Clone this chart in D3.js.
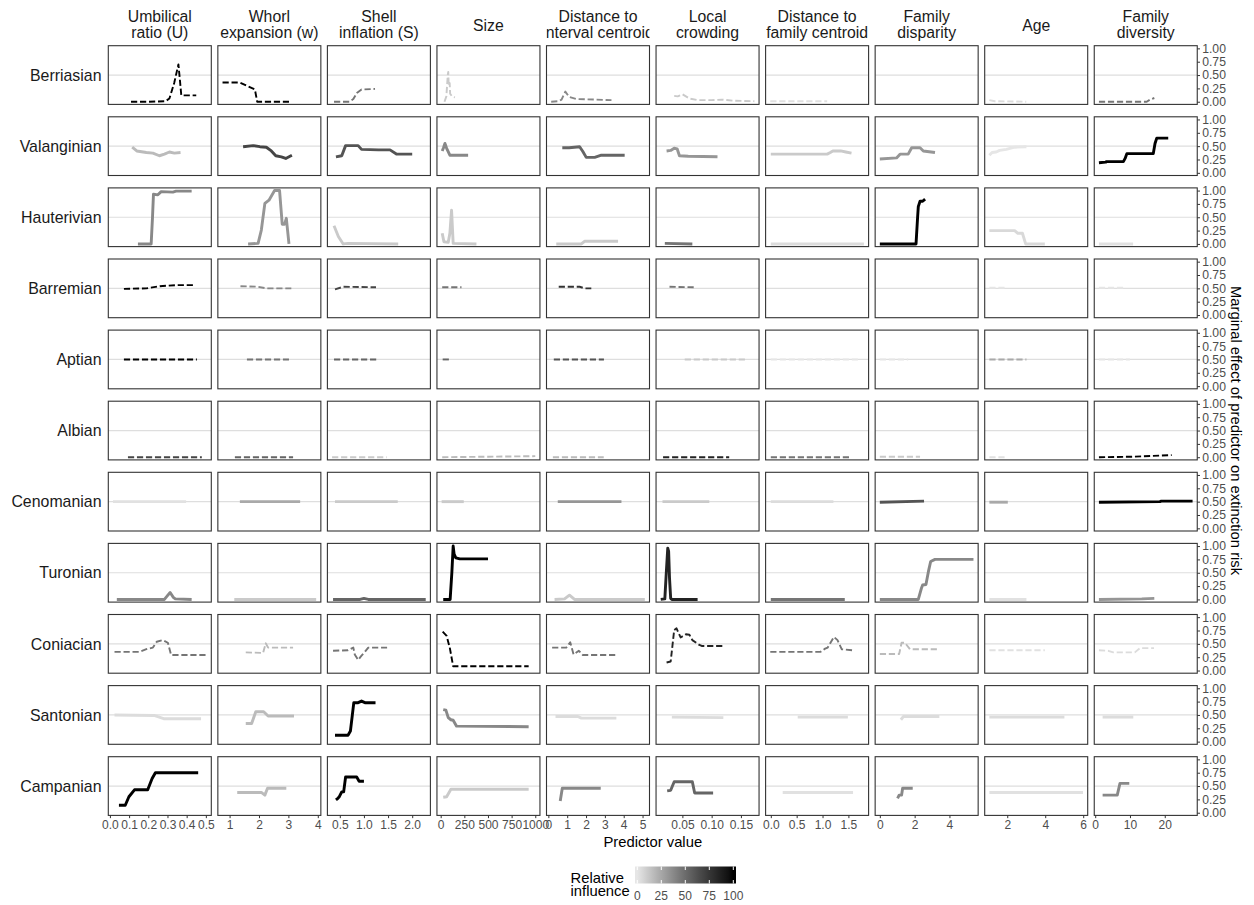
<!DOCTYPE html>
<html>
<head>
<meta charset="utf-8">
<script src="https://cdn.jsdelivr.net/npm/d3@7"></script>
<style>
  body { margin: 0; background: #fff; }
  text { font-family: "Liberation Sans", Arial, Helvetica, sans-serif; }
</style>
</head>
<body>
<div id="chart"></div>
<script>
// periods (rows) and predictors (columns)
const periods = ["Berriasian", "Valanginian", "Hauterivian", "Barremian", "Aptian", "Albian",
  "Cenomanian", "Turonian", "Coniacian", "Santonian", "Campanian"];
const predictors = [["Umbilical", "ratio (U)"], ["Whorl", "expansion (w)"], ["Shell", "inflation (S)"],
  ["Size"], ["Distance to", "interval centroid"], ["Local", "crowding"], ["Distance to", "family centroid"],
  ["Family", "disparity"], ["Age"], ["Family", "diversity"]];
const dashedPeriods = ["Berriasian", "Barremian", "Aptian", "Albian", "Coniacian"];

const xTickLabels = [
  ["0.0", "0.1", "0.2", "0.3", "0.4", "0.5"],
  ["1", "2", "3", "4"],
  ["0.5", "1.0", "1.5", "2.0"],
  ["0", "250", "500", "750", "1000"],
  ["0", "1", "2", "3", "4", "5"],
  ["0.05", "0.10", "0.15"],
  ["0.0", "0.5", "1.0", "1.5"],
  ["0", "2", "4"],
  ["2", "4", "6"],
  ["0", "10", "20"]
];
const yTickLabels = ["0.00", "0.25", "0.50", "0.75", "1.00"];
const legendTicks = [0, 25, 50, 75, 100];

// relative influence of each predictor, per period
const influence = [
  [100, 100, 46, 11, 38, 11, 2, 0, 4, 46],
  [17, 68, 61, 38, 53, 32, 11, 32, 0, 100],
  [38, 32, 11, 11, 11, 46, 4, 100, 5, 2],
  [100, 38, 68, 46, 77, 46, 0, 0, 0, 0],
  [100, 46, 53, 53, 61, 11, 0, 0, 24, 0],
  [68, 53, 11, 17, 17, 85, 46, 11, 2, 100],
  [2, 24, 11, 11, 32, 11, 4, 61, 24, 100],
  [38, 11, 53, 100, 11, 85, 46, 38, 2, 32],
  [46, 17, 46, 100, 46, 85, 46, 17, 2, 4],
  [4, 17, 100, 38, 4, 4, 4, 4, 4, 4],
  [100, 17, 100, 11, 38, 53, 2, 38, 2, 38]
];

// marginal effect curves [predictor value, effect], one list per predictor
const berriasian = [
  [[0.11,0],[0.2,0],[0.29,0.01],[0.31,0.06],[0.335,0.35],[0.357,0.7],[0.365,0.4],[0.372,0.12],[0.45,0.12]],
  [[0.76,0.36],[1.35,0.36],[1.58,0.3],[1.86,0.23],[1.94,0],[3.02,0]],
  [[0.38,0],[0.7,0],[0.78,0.05],[0.86,0.17],[0.95,0.23],[1.23,0.24]],
  [[40,0],[60,0.1],[75,0.5],[80,0.56],[85,0.3],[95,0.35],[100,0.15],[120,0.1],[150,0.08]],
  [[0.15,0],[0.55,0.01],[0.7,0.04],[0.9,0.19],[1.1,0.09],[1.5,0.05],[2.5,0.04],[3.35,0.03]],
  [[0.036,0.11],[0.042,0.1],[0.05,0.14],[0.062,0.06],[0.076,0.03],[0.1,0.03],[0.118,0.04],[0.136,0.02],[0.173,0.01]],
  [[-0.01,0.01],[1.09,0.01]],
  null,
  [[1.06,0.03],[1.35,0.01],[3.0,0]],
  [[1.07,0],[14.8,0],[15.8,0.04],[17,0.07]]
];
const valanginian = [
  [[0.116,0.48],[0.14,0.41],[0.19,0.38],[0.224,0.37],[0.258,0.32],[0.284,0.35],[0.31,0.39],[0.336,0.37],[0.368,0.38]],
  [[1.46,0.49],[1.8,0.51],[2.03,0.49],[2.25,0.48],[2.42,0.41],[2.57,0.32],[2.76,0.3],[2.91,0.27],[3.12,0.33]],
  [[0.42,0.3],[0.54,0.32],[0.62,0.51],[0.88,0.51],[0.95,0.44],[1.3,0.43],[1.54,0.43],[1.68,0.35],[2.0,0.35]],
  [[16,0.41],[30,0.47],[45,0.55],[63,0.46],[97,0.33],[290,0.33]],
  [[0.74,0.47],[1.1,0.47],[1.66,0.49],[1.83,0.4],[2.01,0.29],[2.46,0.29],[2.81,0.33],[4.05,0.33]],
  [[0.023,0.41],[0.03,0.42],[0.036,0.46],[0.041,0.45],[0.045,0.32],[0.06,0.31],[0.11,0.3]],
  [[0,0.35],[1.09,0.35],[1.15,0.38],[1.2,0.41],[1.35,0.41],[1.45,0.39],[1.56,0.37]],
  [[0,0.26],[0.96,0.28],[1.16,0.35],[1.63,0.35],[1.83,0.47],[2.31,0.47],[2.5,0.41],[3.17,0.38]],
  [[1.06,0.33],[1.2,0.38],[1.42,0.39],[1.6,0.42],[1.95,0.44],[2.39,0.48],[3.01,0.49]],
  [[1.07,0.19],[3.0,0.2],[3.3,0.21],[8.1,0.21],[8.6,0.27],[9.1,0.36],[16.7,0.36],[17.2,0.55],[17.7,0.65],[21.0,0.65]]
];
const hauterivian = [
  [[0.146,0],[0.215,0],[0.222,0.5],[0.227,0.93],[0.25,0.92],[0.267,0.98],[0.328,0.97],[0.345,0.99],[0.426,0.99]],
  [[1.63,0],[1.97,0.01],[2.08,0.26],[2.2,0.76],[2.34,0.82],[2.53,1.0],[2.7,1.0],[2.79,0.37],[2.87,0.37],[2.93,0.48],[3.02,0]],
  [[0.38,0.34],[0.47,0.14],[0.57,0],[0.67,0.01],[1.71,0]],
  [[16,0.2],[34,0.04],[80,0.03],[97,0.2],[115,0.63],[132,0.01],[378,0]],
  [[0.42,0],[1.75,0],[1.92,0.05],[3.7,0.05]],
  [[0.02,0.01],[0.067,0]],
  [[0,0],[1.8,0]],
  [[0,0],[2.08,0],[2.17,0.5],[2.21,0.7],[2.31,0.8],[2.46,0.8],[2.6,0.84]],
  [[1.06,0.25],[2.39,0.25],[2.56,0.2],[2.8,0.2],[2.97,0],[3.98,0]],
  [[1.07,0],[10.9,0]]
];
const barremian = [
  [[0.073,0.49],[0.19,0.5],[0.26,0.54],[0.345,0.56],[0.445,0.56]],
  [[1.37,0.54],[1.97,0.53],[2.25,0.5],[3.1,0.5]],
  [[0.4,0.48],[0.57,0.53],[1.25,0.52]],
  [[16,0.52],[220,0.52]],
  [[0.55,0.53],[1.66,0.53],[1.92,0.5],[2.28,0.5]],
  [[0.028,0.53],[0.07,0.52]],
  null,
  null,
  [[1.06,0.51],[1.95,0.51]],
  [[1.07,0.51],[8.56,0.51]]
];
const aptian = [
  [[0.073,0.5],[0.453,0.5]],
  [[1.59,0.5],[3.02,0.5]],
  [[0.38,0.5],[1.26,0.5]],
  [[21,0.5],[90,0.5]],
  [[0.29,0.5],[2.95,0.5]],
  [[0.054,0.5],[0.161,0.5]],
  [[0,0.5],[1.7,0.5]],
  [[0,0.5],[1.63,0.5]],
  [[1.06,0.5],[3.01,0.5]],
  [[1.07,0.5],[10,0.5]]
];
const albian = [
  [[0.094,0],[0.479,0]],
  [[1.18,0],[3.16,0]],
  [[0.34,0],[1.47,0]],
  [[16,0],[500,0.01],[1000,0.02]],
  [[0.24,0],[2.94,0]],
  [[0.017,0],[0.13,0]],
  [[0,0],[1.55,0]],
  [[0,0.01],[2.31,0.01]],
  [[1.06,0],[1.95,0]],
  [[1.07,0],[11,0.01],[18.6,0.03],[22,0.04]]
];
const cenomanian = [
  [[0.016,0.5],[0.397,0.5]],
  [[1.35,0.5],[3.4,0.5]],
  [[0.4,0.5],[1.7,0.5]],
  [[10,0.5],[244,0.5]],
  [[0.5,0.5],[3.88,0.5]],
  [[0.016,0.5],[0.096,0.5]],
  [[0,0.5],[1.21,0.5]],
  [[0,0.49],[2.54,0.51]],
  [[1.06,0.49],[2.03,0.49]],
  [[1.07,0.49],[18.6,0.5],[19,0.51],[28,0.51]]
];
const turonian = [
  [[0.036,0],[0.284,0],[0.3,0.07],[0.314,0.13],[0.33,0.04],[0.341,0.01],[0.426,0]],
  [[1.16,0],[3.945,0]],
  [[0.36,0],[0.92,0],[1.0,0.02],[1.09,0],[2.28,0]],
  [[27,0],[100,0],[118,0.5],[132,1.0],[142,0.85],[160,0.78],[202,0.76],[500,0.76]],
  [[0.33,0],[0.86,0.01],[1.12,0.08],[1.39,0],[5.12,0]],
  [[0.013,0],[0.02,0.01],[0.0225,0.5],[0.025,0.96],[0.0265,0.9],[0.028,0.4],[0.03,0.02],[0.032,0],[0.076,0]],
  [[0,0],[1.43,0]],
  [[0,0],[2.21,0],[2.4,0.22],[2.46,0.27],[2.65,0.28],[2.79,0.52],[2.92,0.71],[3.17,0.75],[5.38,0.75]],
  [[1.06,0],[3.01,0]],
  [[1.07,0],[13.4,0.01],[17,0.02]]
];
const coniacian = [
  [[0.024,0.35],[0.154,0.35],[0.19,0.4],[0.224,0.43],[0.244,0.54],[0.276,0.57],[0.302,0.52],[0.319,0.29],[0.504,0.29]],
  [[1.55,0.34],[2.14,0.33],[2.23,0.51],[2.31,0.43],[3.16,0.43]],
  [[0.36,0.37],[0.67,0.38],[0.78,0.43],[0.81,0.3],[0.88,0.2],[0.95,0.28],[1.02,0.35],[1.09,0.43],[1.48,0.43]],
  [[21,0.73],[63,0.65],[97,0.42],[132,0.08],[930,0.08]],
  [[0.2,0.43],[0.95,0.43],[1.16,0.53],[1.34,0.3],[1.62,0.37],[1.83,0.29],[3.61,0.29]],
  [[0.023,0.15],[0.03,0.17],[0.036,0.76],[0.04,0.79],[0.047,0.62],[0.056,0.68],[0.062,0.67],[0.067,0.57],[0.079,0.48],[0.083,0.46],[0.12,0.46]],
  [[-0.01,0.35],[0.96,0.35],[1.05,0.41],[1.1,0.43],[1.22,0.63],[1.29,0.57],[1.37,0.4],[1.58,0.38]],
  [[0,0.31],[1.11,0.31],[1.25,0.52],[1.44,0.52],[1.73,0.4],[3.42,0.4]],
  [[1.06,0.38],[3.98,0.38]],
  [[1.07,0.38],[3.75,0.37],[5.2,0.34],[11.4,0.34],[12.9,0.42],[16.9,0.42]]
];
const santonian = [
  [[0.024,0.5],[0.23,0.49],[0.28,0.43],[0.475,0.43]],
  [[1.55,0.34],[1.75,0.34],[1.89,0.56],[2.16,0.56],[2.31,0.48],[3.19,0.48]],
  [[0.4,0.12],[0.67,0.12],[0.72,0.2],[0.76,0.5],[0.79,0.73],[0.88,0.73],[0.95,0.76],[1.02,0.73],[1.24,0.73]],
  [[27,0.6],[55,0.59],[80,0.45],[108,0.41],[132,0.4],[168,0.29],[930,0.28]],
  [[0.38,0.47],[1.57,0.47],[1.75,0.44],[3.61,0.44]],
  [[0.032,0.46],[0.12,0.45]],
  [[0.52,0.46],[1.49,0.46]],
  [[1.21,0.41],[1.35,0.47],[3.42,0.47]],
  [[1.06,0.46],[5.01,0.46]],
  [[2.13,0.46],[10.95,0.46]]
];
const campanian = [
  [[0.047,0.14],[0.08,0.14],[0.099,0.3],[0.128,0.43],[0.197,0.43],[0.22,0.64],[0.237,0.75],[0.46,0.75]],
  [[1.26,0.38],[2.08,0.38],[2.2,0.33],[2.29,0.46],[2.93,0.46]],
  [[0.42,0.24],[0.46,0.27],[0.49,0.3],[0.54,0.39],[0.58,0.39],[0.62,0.67],[0.85,0.67],[0.9,0.59],[1.0,0.59]],
  [[27,0.29],[63,0.3],[108,0.44],[930,0.44]],
  [[0.63,0.22],[0.74,0.46],[2.78,0.46]],
  [[0.024,0.41],[0.03,0.42],[0.036,0.58],[0.067,0.58],[0.071,0.37],[0.1025,0.37]],
  [[0.23,0.38],[1.59,0.38]],
  [[1.02,0.27],[1.11,0.33],[1.25,0.33],[1.31,0.46],[1.89,0.46]],
  [[1.06,0.38],[5.99,0.38]],
  [[2.13,0.33],[6.34,0.33],[7.12,0.55],[9.8,0.55]]
];
const curves = [berriasian, valanginian, hauterivian, barremian, aptian, albian,
  cenomanian, turonian, coniacian, santonian, campanian];

// layout
const width = 1254, height = 905;
const gridLeft = 108.3, gridTop = 45.7;
const panelW = 103, panelH = 58.7;
const colStep = 109.55, rowStep = 71.1;
const nRows = periods.length, nCols = predictors.length;
const fontFam = '"Liberation Sans", Arial, Helvetica, sans-serif';

const svg = d3.select("#chart").append("svg")
  .attr("width", width)
  .attr("height", height);
svg.append("rect").attr("width", width).attr("height", height).attr("fill", "#fff");

const colour = d3.scaleLinear().domain([0, 100]).range(["#e6e6e6", "#000000"]).interpolate(d3.interpolateLab);

const y = d3.scaleLinear().domain([-0.05, 1.05]).range([panelH, 0]);

// free x scale per column: data extent expanded by 5%
const xScales = predictors.map((p, c) => {
  const vals = [];
  curves.forEach(rowCurves => { if (rowCurves[c]) rowCurves[c].forEach(d => vals.push(d[0])); });
  const [lo, hi] = d3.extent(vals);
  const pad = (hi - lo) * 0.05;
  return d3.scaleLinear().domain([lo - pad, hi + pad]).range([0, panelW]);
});

const line = d3.line();

// column strips
predictors.forEach((lab, c) => {
  const cx = gridLeft + c * colStep;
  const clipId = "strip" + c;
  svg.append("clipPath").attr("id", clipId)
    .append("rect").attr("x", cx).attr("y", 0).attr("width", panelW).attr("height", gridTop);
  const t = svg.append("text")
    .attr("clip-path", `url(#${clipId})`)
    .attr("text-anchor", "middle")
    .attr("fill", "#1a1a1a")
    .style("font-size", "15.8px");
  if (lab.length === 1) {
    t.append("tspan").attr("x", cx + panelW / 2).attr("y", 30.5).text(lab[0]);
  } else {
    t.append("tspan").attr("x", cx + panelW / 2).attr("y", 22).text(lab[0]);
    t.append("tspan").attr("x", cx + panelW / 2).attr("y", 37.5).text(lab[1]);
  }
});

// panels
periods.forEach((period, r) => {
  const py = gridTop + r * rowStep;
  const dashed = dashedPeriods.includes(period);

  svg.append("text")
    .attr("x", gridLeft - 6.8)
    .attr("y", py + panelH / 2)
    .attr("dy", "0.36em")
    .attr("text-anchor", "end")
    .attr("fill", "#1a1a1a")
    .style("font-size", "15.9px")
    .text(period);

  predictors.forEach((p, c) => {
    const x = xScales[c];
    const g = svg.append("g").attr("transform", `translate(${gridLeft + c * colStep},${py})`);

    g.append("line")
      .attr("x1", 0).attr("x2", panelW)
      .attr("y1", y(0.5)).attr("y2", y(0.5))
      .attr("stroke", "#dedede")
      .attr("stroke-width", 1.2);

    const data = curves[r][c];
    if (data) {
      g.append("path")
        .attr("d", line.x(d => x(d[0])).y(d => y(d[1]))(data))
        .attr("fill", "none")
        .attr("stroke", colour(influence[r][c]))
        .attr("stroke-width", dashed ? 1.9 : 2.9)
        .attr("stroke-dasharray", dashed ? "6.2,2.8" : null)
        .attr("stroke-linejoin", "round");
    }

    g.append("rect")
      .attr("width", panelW).attr("height", panelH)
      .attr("fill", "none")
      .attr("stroke", "#333333")
      .attr("stroke-width", 1.1);

    // right axis on last column
    if (c === nCols - 1) {
      const ax = g.append("g")
        .attr("transform", `translate(${panelW},0)`)
        .call(d3.axisRight(y)
          .tickValues(yTickLabels.map(Number))
          .tickFormat((d, i) => yTickLabels[i])
          .tickSize(2.75).tickPadding(2.2));
      ax.select(".domain").remove();
      ax.selectAll(".tick line").attr("stroke", "#333333");
      ax.selectAll(".tick text").attr("fill", "#4d4d4d").style("font-size", "12.2px").style("font-family", fontFam);
    }

    // bottom axis on last row
    if (r === nRows - 1) {
      const labels = xTickLabels[c];
      const ax = g.append("g")
        .attr("transform", `translate(0,${panelH})`)
        .call(d3.axisBottom(x)
          .tickValues(labels.map(Number))
          .tickFormat((d, i) => labels[i])
          .tickSize(2.75).tickPadding(2.2));
      ax.select(".domain").remove();
      ax.selectAll(".tick line").attr("stroke", "#333333");
      ax.selectAll(".tick text").attr("fill", "#4d4d4d").style("font-size", "12px").style("font-family", fontFam);
    }
  });
});

// axis titles
const gridRight = gridLeft + (nCols - 1) * colStep + panelW;
const gridBottom = gridTop + (nRows - 1) * rowStep + panelH;

svg.append("text")
  .attr("x", (gridLeft + gridRight) / 2)
  .attr("y", 847)
  .attr("text-anchor", "middle")
  .attr("fill", "#000")
  .style("font-size", "14.8px")
  .text("Predictor value");

svg.append("text")
  .attr("transform", `translate(1230.5,${(gridTop + gridBottom) / 2}) rotate(90)`)
  .attr("text-anchor", "middle")
  .attr("fill", "#000")
  .style("font-size", "14.8px")
  .text("Marginal effect of predictor on extinction risk");

// colour legend
const legX = 635, legY = 866.5, legW = 101, legH = 17;
const legScale = d3.scaleLinear().domain([0, 100]).range([legX + 2.3, legX + legW - 2.7]);

const grad = svg.append("defs").append("linearGradient").attr("id", "infl");
d3.range(0, 101, 5).forEach(v => {
  grad.append("stop")
    .attr("offset", ((legScale(v) - legX) / legW * 100) + "%")
    .attr("stop-color", colour(v));
});

svg.append("rect")
  .attr("x", legX).attr("y", legY)
  .attr("width", legW).attr("height", legH)
  .attr("fill", "url(#infl)");

legendTicks.forEach(v => {
  [[legY, legY + 3.5], [legY + legH - 3.5, legY + legH]].forEach(([a, b]) => {
    svg.append("line")
      .attr("x1", legScale(v)).attr("x2", legScale(v))
      .attr("y1", a).attr("y2", b)
      .attr("stroke", "#fff").attr("stroke-width", 1);
  });
  svg.append("text")
    .attr("x", legScale(v))
    .attr("y", 900)
    .attr("text-anchor", "middle")
    .attr("fill", "#4d4d4d")
    .style("font-size", "12px")
    .text(v);
});

svg.append("text")
  .attr("fill", "#000")
  .style("font-size", "14.8px")
  .selectAll("tspan")
  .data(["Relative", "influence"])
  .join("tspan")
  .attr("x", 570.5)
  .attr("y", (d, i) => 882.5 + i * 13.8)
  .text(d => d);
</script>
</body>
</html>
